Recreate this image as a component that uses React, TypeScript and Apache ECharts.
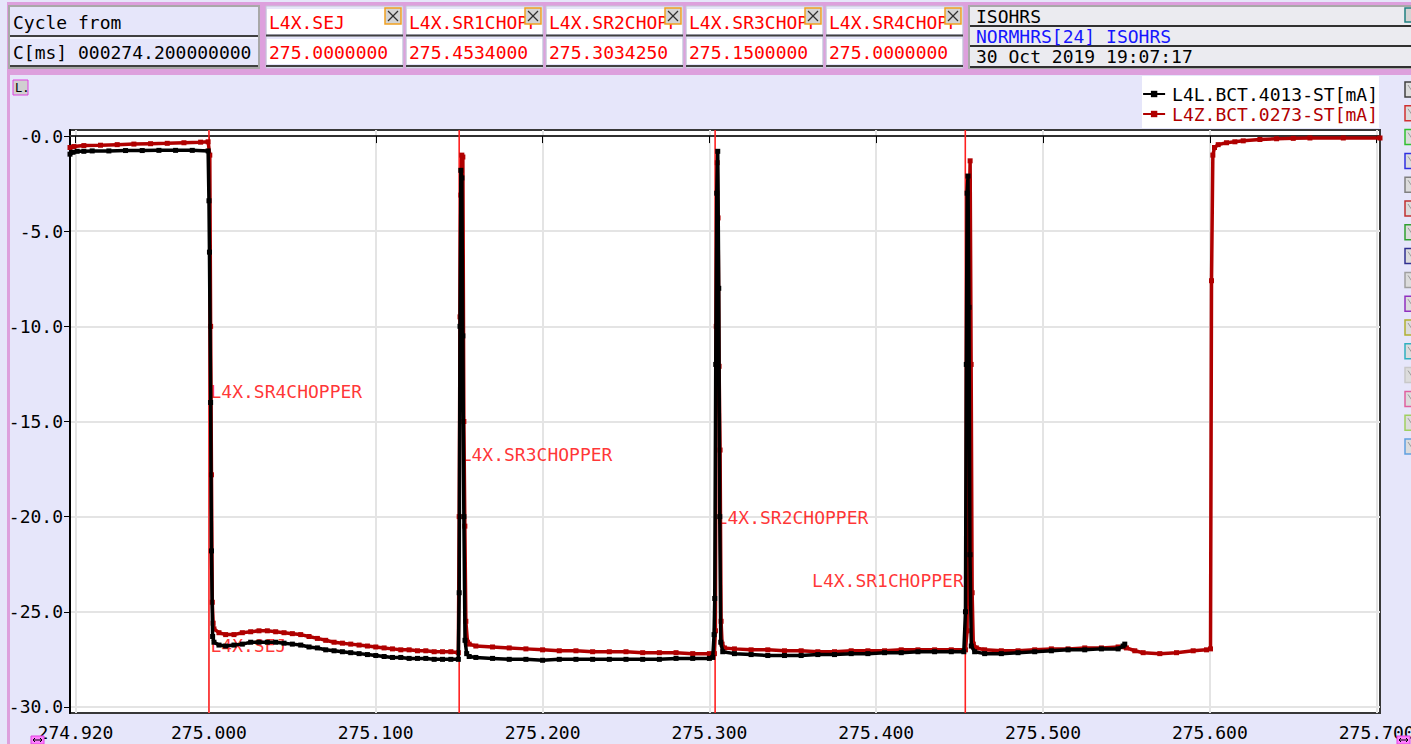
import React, { useEffect, useRef } from "react";
import * as echarts from "echarts";

const FONT = "'DejaVu Sans Mono', 'Liberation Mono', monospace";
const FS = 18;

const xTicks = [274.92, 275.0, 275.1, 275.2, 275.3, 275.4, 275.5, 275.6, 275.7];
const yTicks = [0, -5, -10, -15, -20, -25, -30];
const xAxisName = "C[ms]";

const seriesNames = ["L4L.BCT.4013-ST[mA]", "L4Z.BCT.0273-ST[mA]"];

// L4L.BCT.4013-ST [time ms, current mA]
const blackPoints: [number, number][] = [
  [274.9167, -0.95], [274.9185, -0.85], [274.921, -0.8], [274.925, -0.8], [274.93, -0.78], [274.94, -0.78],
  [274.95, -0.76], [274.96, -0.76], [274.97, -0.75], [274.98, -0.75], [274.99, -0.75], [274.9995, -0.78],
  [275.0, -3.4], [275.0003, -6.1], [275.001, -14.0], [275.0015, -21.8], [275.0022, -26.3], [275.003, -26.6],
  [275.006, -26.75], [275.01, -26.8], [275.015, -26.75], [275.02, -26.7], [275.025, -26.6], [275.03, -26.6],
  [275.035, -26.6], [275.04, -26.6], [275.045, -26.65], [275.05, -26.7], [275.055, -26.75], [275.06, -26.85],
  [275.065, -26.9], [275.07, -27.0], [275.075, -27.05], [275.08, -27.1], [275.085, -27.15], [275.09, -27.2],
  [275.095, -27.25], [275.1, -27.3], [275.105, -27.35], [275.11, -27.4], [275.115, -27.4], [275.12, -27.45],
  [275.125, -27.45], [275.13, -27.45], [275.135, -27.5], [275.14, -27.5], [275.145, -27.5], [275.1495, -27.5],
  [275.15, -24.0], [275.1505, -10.0], [275.151, -1.8], [275.1516, -2.2], [275.1522, -10.5], [275.1528, -20.0],
  [275.1535, -26.5], [275.1545, -27.2], [275.156, -27.35], [275.16, -27.4], [275.17, -27.45], [275.18, -27.5],
  [275.19, -27.5], [275.2, -27.55], [275.21, -27.5], [275.22, -27.5], [275.23, -27.5], [275.24, -27.5],
  [275.25, -27.5], [275.26, -27.5], [275.27, -27.5], [275.28, -27.45], [275.29, -27.45], [275.3, -27.45],
  [275.302, -27.4], [275.3028, -26.2], [275.3032, -24.3], [275.3038, -12.0], [275.3044, -3.0], [275.305, -0.8],
  [275.3056, -8.0], [275.3062, -20.0], [275.3068, -26.6], [275.308, -27.1], [275.315, -27.2], [275.325, -27.25],
  [275.335, -27.3], [275.345, -27.3], [275.355, -27.3], [275.365, -27.25], [275.375, -27.25], [275.385, -27.2],
  [275.395, -27.2], [275.405, -27.15], [275.415, -27.15], [275.425, -27.1], [275.435, -27.1], [275.445, -27.1],
  [275.4525, -27.1], [275.4535, -25.0], [275.454, -12.0], [275.4545, -3.0], [275.455, -2.1], [275.4556, -9.0],
  [275.4562, -22.0], [275.457, -26.8], [275.459, -27.1], [275.465, -27.2], [275.475, -27.2], [275.485, -27.15],
  [275.495, -27.1], [275.505, -27.05], [275.515, -27.0], [275.525, -27.0], [275.535, -26.95], [275.545, -26.95],
  [275.548, -26.8], [275.549, -26.7],
];

// L4Z.BCT.0273-ST [time ms, current mA]
const redPoints: [number, number][] = [
  [274.9167, -0.6], [274.919, -0.55], [274.925, -0.5], [274.935, -0.48], [274.945, -0.45], [274.955, -0.42],
  [274.965, -0.4], [274.975, -0.38], [274.985, -0.35], [274.995, -0.32], [274.9995, -0.3],
  [275.0005, -1.0], [275.001, -10.0], [275.0015, -17.8], [275.002, -24.5], [275.0025, -25.6], [275.003, -25.9],
  [275.006, -26.1], [275.01, -26.2], [275.015, -26.2], [275.02, -26.1], [275.025, -26.05], [275.03, -26.0],
  [275.035, -26.0], [275.04, -26.05], [275.045, -26.1], [275.05, -26.15], [275.055, -26.2], [275.06, -26.3],
  [275.065, -26.4], [275.07, -26.5], [275.075, -26.6], [275.08, -26.65], [275.085, -26.7], [275.09, -26.75],
  [275.095, -26.8], [275.1, -26.85], [275.105, -26.9], [275.11, -26.95], [275.115, -27.0], [275.12, -27.0],
  [275.125, -27.05], [275.13, -27.05], [275.135, -27.1], [275.14, -27.1], [275.145, -27.1], [275.1495, -27.15],
  [275.15, -20.0], [275.1505, -9.5], [275.151, -3.1], [275.1516, -1.0], [275.1522, -1.1], [275.1528, -15.0],
  [275.1534, -20.5], [275.154, -25.5], [275.155, -26.6], [275.156, -26.7], [275.16, -26.8], [275.17, -26.85],
  [275.18, -26.9], [275.19, -26.95], [275.2, -27.0], [275.21, -27.05], [275.22, -27.05], [275.23, -27.1],
  [275.24, -27.1], [275.25, -27.1], [275.26, -27.15], [275.27, -27.15], [275.28, -27.15], [275.29, -27.2],
  [275.3, -27.2], [275.303, -27.2], [275.3036, -26.0], [275.3041, -10.0], [275.3047, -1.4], [275.3052, -4.3],
  [275.3058, -12.1], [275.3064, -16.5], [275.307, -25.5], [275.3076, -26.7], [275.309, -26.9], [275.315, -26.95],
  [275.325, -27.0], [275.335, -27.0], [275.345, -27.05], [275.355, -27.05], [275.365, -27.1], [275.375, -27.1],
  [275.385, -27.05], [275.395, -27.05], [275.405, -27.05], [275.415, -27.0], [275.425, -27.0], [275.435, -27.0],
  [275.445, -27.0], [275.4535, -27.0], [275.4545, -26.0], [275.455, -15.0], [275.4557, -4.0], [275.4563, -1.3],
  [275.4569, -12.0], [275.4575, -24.0], [275.4582, -26.7], [275.46, -26.9], [275.465, -27.0], [275.475, -27.05],
  [275.485, -27.05], [275.495, -27.0], [275.505, -26.95], [275.515, -26.95], [275.525, -26.9], [275.535, -26.9],
  [275.545, -26.85], [275.55, -26.9], [275.555, -27.05], [275.56, -27.15], [275.57, -27.2], [275.58, -27.15],
  [275.59, -27.05], [275.598, -27.0], [275.6004, -26.95], [275.601, -7.6], [275.6018, -1.0], [275.6028, -0.6],
  [275.605, -0.45], [275.61, -0.35], [275.615, -0.3], [275.62, -0.25], [275.63, -0.18], [275.64, -0.14],
  [275.65, -0.12], [275.66, -0.1], [275.68, -0.1], [275.702, -0.1],
];

// timing event markers
const markerNames = ["L4X.SEJ", "L4X.SR4CHOPPER", "L4X.SR3CHOPPER", "L4X.SR2CHOPPER", "L4X.SR1CHOPPER"];
const markerTimes = [275.0, 275.0, 275.15, 275.303425, 275.4534];
const markerLabelLevels = [-26.75, -13.4, -16.76, -20.07, -23.38];
const markerLabelSides = ["right", "right", "right", "right", "left"];

// header boxes
const headerNames = ["L4X.SEJ", "L4X.SR1CHOPPER", "L4X.SR2CHOPPER", "L4X.SR3CHOPPER", "L4X.SR4CHOPPER"];
const headerValues = ["275.0000000", "275.4534000", "275.3034250", "275.1500000", "275.0000000"];
const cycleTexts = ["Cycle from", "C[ms] 000274.200000000"];
const infoTexts = ["ISOHRS", "NORMHRS[24] ISOHRS", "30 Oct 2019 19:07:17"];

const sideIconColors = [
  "#404040", "#d03030", "#30c030", "#3030e0", "#808080", "#c03030", "#30a030", "#303090",
  "#a0a0a0", "#9030c0", "#b0b030", "#30b0c0", "#c8c8c8", "#e060a0", "#a0d060", "#60a0e0",
];

function buildGraphics() {
  const g: any[] = [];
  const txt = (x: number, y: number, text: string, fill: string, extra: any = {}) => ({
    type: "text",
    x,
    y,
    z: 10,
    style: { text, fill, fontFamily: FONT, fontSize: FS, verticalAlign: "middle", ...extra },
  });
  const line = (x1: number, y1: number, x2: number, y2: number, stroke: string, w = 2) => ({
    type: "line",
    z: 10,
    shape: { x1, y1, x2, y2 },
    style: { stroke, lineWidth: w },
  });
  // pink frame
  g.push({ type: "rect", z: 1, shape: { x: 7, y: 2, width: 1404, height: 73 }, style: { fill: "#dda0dd" } });
  g.push({ type: "rect", z: 1, shape: { x: 7, y: 75, width: 3, height: 669 }, style: { fill: "#dda0dd" } });
  // cycle box
  g.push({ type: "rect", z: 5, shape: { x: 9, y: 6, width: 250, height: 62 }, style: { fill: "#e6e6fa", stroke: "#a8a8a8", lineWidth: 2 } });
  g.push(line(10, 36, 258, 36, "#404040"));
  g.push(line(10, 38, 258, 38, "#ffffff", 1));
  g.push(line(10, 66, 258, 66, "#404040"));
  g.push(txt(13, 22, cycleTexts[0], "#000"));
  g.push(txt(13, 52, cycleTexts[1], "#000"));
  // event boxes
  headerNames.forEach((name, i) => {
    const x0 = 266 + 140 * i;
    g.push({ type: "rect", z: 5, shape: { x: x0, y: 6, width: 137, height: 62 }, style: { fill: "#e6e6fa", stroke: "#c4c4d4", lineWidth: 1 } });
    g.push({ type: "rect", z: 6, shape: { x: x0 + 1, y: 9, width: 135, height: 25 }, style: { fill: "#ffffff" } });
    g.push({ type: "rect", z: 6, shape: { x: x0 + 1, y: 39, width: 135, height: 25 }, style: { fill: "#ffffff" } });
    g.push(line(x0, 35.5, x0 + 137, 35.5, "#404040"));
    g.push(line(x0, 66, x0 + 137, 66, "#404040"));
    g.push(txt(x0 + 3, 22, name, "#ff0000", { width: 133, overflow: "truncate", ellipsis: "" }));
    g.push(txt(x0 + 3, 52, headerValues[i], "#ff0000"));
    g.push({ type: "rect", z: 12, shape: { x: x0 + 119, y: 8, width: 16, height: 16 }, style: { fill: "#d4d4d4", stroke: "#f0a020", lineWidth: 1.5 } });
    g.push({ ...line(x0 + 122, 11, x0 + 132, 21, "#303030", 1.2), z: 13 });
    g.push({ ...line(x0 + 132, 11, x0 + 122, 21, "#303030", 1.2), z: 13 });
  });
  // info box
  g.push({ type: "rect", z: 5, shape: { x: 969, y: 6, width: 444, height: 62 }, style: { fill: "#ebebf0", stroke: "#a8a8a8", lineWidth: 2 } });
  g.push(line(970, 26, 1411, 26, "#303030"));
  g.push(line(970, 46, 1411, 46, "#303030"));
  g.push(line(970, 67, 1411, 67, "#303030"));
  g.push(txt(976, 16, infoTexts[0], "#000"));
  g.push(txt(976, 36.5, infoTexts[1], "#1515ff"));
  g.push(txt(976, 56.5, infoTexts[2], "#000"));
  g.push({ type: "rect", z: 12, shape: { x: 1405, y: 8, width: 14, height: 14 }, style: { fill: "#d4d4d4", stroke: "#208080", lineWidth: 1.5 } });
  // L. icon
  g.push({ type: "rect", z: 5, shape: { x: 13, y: 80, width: 15, height: 15 }, style: { fill: "#d0d0d0", stroke: "#e040e0", lineWidth: 1 } });
  g.push({ type: "text", z: 6, x: 15, y: 88, style: { text: "L.", fill: "#000", fontFamily: FONT, fontSize: 12, verticalAlign: "middle" } });
  // legend box
  g.push({ type: "rect", z: 2, shape: { x: 1142, y: 76, width: 237, height: 52 }, style: { fill: "#ffffff" } });
  // side icons
  sideIconColors.forEach((c, i) => {
    const y0 = 82 + 23.8 * i;
    g.push({ type: "rect", z: 5, shape: { x: 1405, y: y0, width: 15, height: 15 }, style: { fill: "#dcdcdc", stroke: c, lineWidth: 1.5 } });
    g.push({ ...line(1408, y0 + 3, 1414, y0 + 12, "#9a9a9a", 1), z: 6 });
  });
  // bottom arrow buttons (drawn as shapes)
  [31, 1397].forEach((x) => {
    g.push({ type: "rect", z: 5, shape: { x, y: 736, width: 13, height: 8 }, style: { fill: "#ff80ff", stroke: "#e040e0", lineWidth: 1 } });
    g.push({ ...line(x + 2, 740, x + 11, 740, "#000", 1), z: 6 });
    g.push({ type: "polyline", z: 6, shape: { points: [[x + 4, 738], [x + 2, 740], [x + 4, 742]] }, style: { stroke: "#000", lineWidth: 1, fill: "none" } });
    g.push({ type: "polyline", z: 6, shape: { points: [[x + 9, 738], [x + 11, 740], [x + 9, 742]] }, style: { stroke: "#000", lineWidth: 1, fill: "none" } });
  });
  // axis name, mostly cut by the bottom edge
  g.push({ type: "text", z: 6, x: 715, y: 754, style: { text: xAxisName, fill: "#000", fontFamily: FONT, fontSize: FS, align: "center", verticalAlign: "middle" } });
  return g;
}

export default function App() {
  const ref = useRef<HTMLDivElement>(null);
  useEffect(() => {
    document.body.style.margin = "0";
    const chart = echarts.init(ref.current!, null, { renderer: "svg" });
    const markerLabelData = markerNames.map((n, i) => ({
      name: n,
      value: [markerTimes[i], markerLabelLevels[i]],
      label: { position: markerLabelSides[i] },
    }));
    const uniqueMarkerTimes = Array.from(new Set(markerTimes));
    chart.setOption({
      animation: false,
      backgroundColor: "#e6e6fa",
      textStyle: { fontFamily: FONT },
      grid: {
        left: 70,
        right: 31,
        top: 130,
        bottom: 31,
        containLabel: false,
        outerBoundsMode: "none",
        show: true,
        backgroundColor: "#ffffff",
        borderColor: "#383838",
        borderWidth: 2,
      },
      legend: {
        data: [
          { name: seriesNames[0], textStyle: { color: "#000000" } },
          { name: seriesNames[1], textStyle: { color: "#b00000" } },
        ],
        orient: "vertical",
        right: 33,
        top: 85,
        itemGap: 2,
        itemWidth: 22,
        itemHeight: 8,
        padding: 0,
        selectedMode: false,
        textStyle: { fontFamily: FONT, fontSize: FS, padding: [0, 0, 0, 2] },
      },
      xAxis: {
        type: "value",
        min: 274.9167,
        max: 275.702,
        axisLine: { show: true, lineStyle: { color: "#303030", width: 2 } },
        axisTick: { show: true, length: 7, customValues: xTicks, lineStyle: { color: "#000" } },
        axisLabel: {
          customValues: xTicks,
          margin: 10,
          color: "#000",
          fontFamily: FONT,
          fontSize: FS,
          hideOverlap: false,
          formatter: (v: number) => v.toFixed(3),
        },
        splitLine: { show: true, lineStyle: { color: "#e4e4e4", width: 2 } },
      },
      yAxis: {
        type: "value",
        min: -30.32,
        max: 0.32,
        axisLine: { show: true, lineStyle: { color: "#000", width: 2 } },
        axisTick: { show: true, length: 6, customValues: yTicks, lineStyle: { color: "#000" } },
        axisLabel: {
          customValues: yTicks,
          margin: 7,
          color: "#000",
          fontFamily: FONT,
          fontSize: FS,
          formatter: (v: number) => (v === 0 ? "-0.0" : v.toFixed(1)),
        },
        splitLine: { show: true, lineStyle: { color: "#e4e4e4", width: 2 } },
      },
      graphic: buildGraphics(),
      series: [
        {
          name: "eventLines",
          type: "custom",
          z: 1,
          silent: true,
          data: uniqueMarkerTimes.map((t) => [t, 0]),
          encode: { x: 0, y: 1 },
          renderItem: (params: any, api: any) => {
            const x = api.coord([api.value(0), 0])[0];
            const cs = params.coordSys;
            return {
              type: "line",
              shape: { x1: x, y1: cs.y, x2: x, y2: cs.y + cs.height },
              style: { stroke: "#ff2020", lineWidth: 1.6 },
            };
          },
        },
        {
          name: "markers",
          type: "scatter",
          z: 1,
          silent: true,
          symbolSize: 1,
          itemStyle: { color: "rgba(0,0,0,0)" },
          data: markerLabelData,
          label: {
            show: true,
            distance: 1,
            formatter: "{b}",
            color: "#ff0000",
            fontFamily: FONT,
            fontSize: FS,
          },
        },
        {
          name: seriesNames[1],
          type: "line",
          z: 2,
          silent: true,
          data: redPoints,
          color: "#b00000",
          symbol: "rect",
          symbolSize: 5,
          showSymbol: true,
          showAllSymbol: true,
          lineStyle: { width: 3.5, color: "#b00000" },
          itemStyle: { color: "#b00000" },
        },
        {
          name: seriesNames[0],
          type: "line",
          z: 3,
          silent: true,
          data: blackPoints,
          color: "#000000",
          symbol: "rect",
          symbolSize: 5,
          showSymbol: true,
          showAllSymbol: true,
          lineStyle: { width: 3.5, color: "#000000" },
          itemStyle: { color: "#000000" },
        },
      ],
    });
    return () => chart.dispose();
  }, []);
  return <div ref={ref} style={{ width: 1411, height: 744 }} />;
}
